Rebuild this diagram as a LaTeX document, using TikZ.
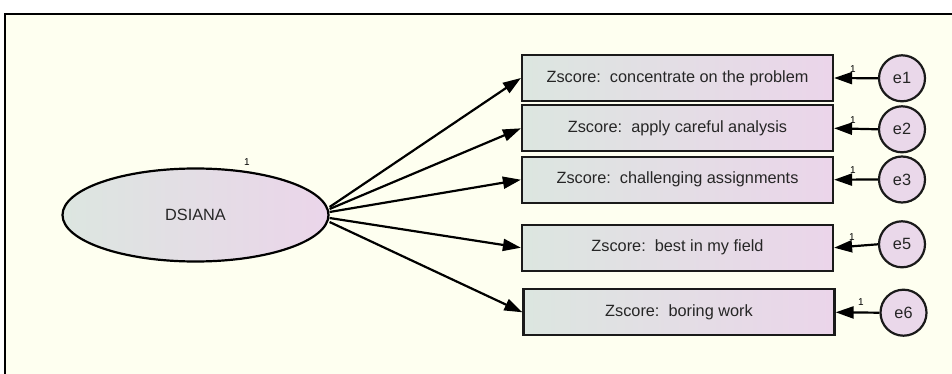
\documentclass[tikz,border=0pt]{standalone}
\usepackage{fontspec}
\setmainfont{Liberation Sans}
\usetikzlibrary{shapes.geometric,arrows.meta}
\definecolor{bgcream}{HTML}{FEFFF0}
\definecolor{gleft}{HTML}{DCE6E0}
\definecolor{gright}{HTML}{EBD5EA}
\definecolor{circfill}{HTML}{EAD8EA}
\definecolor{edge}{HTML}{1A1A1A}
\definecolor{txt}{HTML}{262626}
\tikzset{
  x=1pt, y=1pt,
  obsbox/.style={draw=edge, line width=2.2pt, left color=gleft, right color=gright,
    minimum width=311pt, minimum height=46pt, inner sep=0pt, text=txt,
    font=\fontsize{16.3}{19}\selectfont},
  latent/.style={ellipse, draw=black, line width=2.2pt, left color=gleft, right color=gright,
    minimum width=266pt, minimum height=93pt, inner sep=0pt, text=txt,
    font=\fontsize{16.3}{19}\selectfont},
  errc/.style={circle, draw=edge, line width=2.2pt, fill=circfill,
    minimum size=46pt, inner sep=0pt, text=txt, font=\fontsize{16.3}{19}\selectfont},
  arr/.style={line width=2.2pt, draw=black, -{Triangle[length=18pt,width=12pt]}},
  onelab/.style={font=\fontsize{10}{11}\selectfont, inner sep=0pt, text=black},
}
\begin{document}
\begin{tikzpicture}
\useasboundingbox (0,0) rectangle (952,-374);
\fill[white] (0,0) rectangle (952,-374);
\fill[bgcream] (5,-14) rectangle (952,-374);
\draw[line width=2.2pt, black] (952,-14) -- (5,-14) -- (5,-374);

\node[latent] (ell) at (195.5,-215) {DSIANA};
\node[onelab] (lell) at (247,-162) {1};

\node[obsbox] (b1) at (677.5,-78) {Zscore:\ \ concentrate on the problem};
\node[obsbox] (b2) at (677.5,-128.3) {Zscore:\ \ apply careful analysis};
\node[obsbox] (b3) at (677.5,-179.7) {Zscore:\ \ challenging assignments};
\node[obsbox] (b4) at (677.5,-247.7) {Zscore:\ \ best in my field};
\node[obsbox] (b5) at (679,-312.3) {Zscore:\ \ boring work};

\node[errc] (e1) at (902,-78.3) {e1};
\node[errc] (e2) at (902,-129.3) {e2};
\node[errc] (e3) at (902,-179.5) {e3};
\node[errc] (e5) at (902,-244.3) {e5};
\node[errc] (e6) at (903.5,-312.7) {e6};

\draw[arr] ([yshift=8pt]ell.east) -- (b1.west);
\draw[arr] ([yshift=6pt]ell.east) -- (b2.west);
\draw[arr] ([yshift=3pt]ell.east) -- (b3.west);
\draw[arr] ([yshift=-3pt]ell.east) -- (b4.west);
\draw[arr] ([yshift=-7pt]ell.east) -- (b5.west);

\draw[arr] (e1.west) -- (b1.east);
\draw[arr] (e2.west) -- (b2.east);
\draw[arr] (e3.west) -- (b3.east);
\draw[arr] (e5.west) -- (b4.east);
\draw[arr] (e6.west) -- (b5.east);

\node[onelab] (l1) at (853,-69) {1};
\node[onelab] (l2) at (853,-120) {1};
\node[onelab] (l3) at (853,-170) {1};
\node[onelab] (l5) at (852,-237) {1};
\node[onelab] (l6) at (861,-302) {1};
\end{tikzpicture}
\end{document}
